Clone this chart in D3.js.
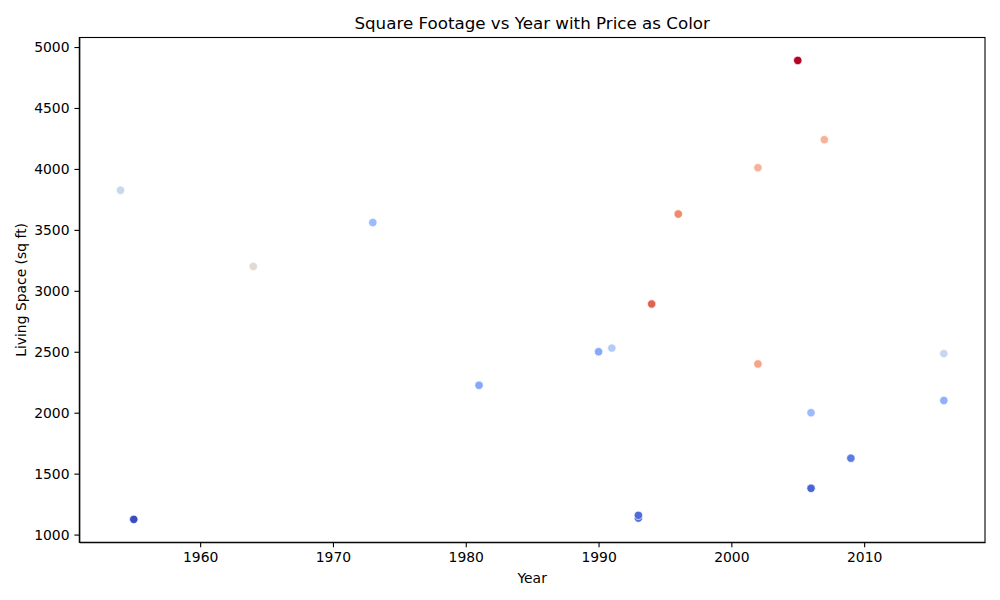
<!DOCTYPE html>
<html>
<head>
<meta charset="utf-8">
<script src="https://cdn.jsdelivr.net/npm/d3@7"></script>
<style>
  body { margin: 0; background: #fff; }
  svg text { font-family: "DejaVu Sans", sans-serif; fill: #000; }
  .axis path, .axis line { stroke: #000; stroke-width: 1.1; }
</style>
</head>
<body>
<div id="chart"></div>
<script>
// Data (one entry per house).
const years = [1954, 1955, 1964, 1973, 1981, 1990, 1991, 1993, 1993, 1994, 1996, 2002, 2002, 2005, 2006, 2006, 2007, 2009, 2016, 2016];
const sqft  = [3825, 1125, 3200, 3560, 2225, 2500, 2530, 1135, 1158, 2892, 3630, 4010, 2400, 4890, 2000, 1380, 4240, 1627, 2485, 2100];
const price = [915000, 250000, 1060000, 700000, 605000, 610000, 810000, 380000, 360000, 1585000, 1475000, 1300000, 1365000, 1800000, 700000, 335000, 1300000, 420000, 915000, 650000];

const xTicks = [1960, 1970, 1980, 1990, 2000, 2010];
const yTicks = [1000, 1500, 2000, 2500, 3000, 3500, 4000, 4500, 5000];

// matplotlib "coolwarm", sampled at 11 even stops
const coolwarm = ["#3b4cc0", "#5977e3", "#7b9ff9", "#9ebeff", "#c0d4f5", "#dddcdc",
                  "#f2cbb7", "#f7ac8e", "#ee8468", "#d65244", "#b40426"];

const width = 1000, height = 600;
const margin = {top: 37.5, right: 15, bottom: 57.7, left: 79.3};
const innerW = width - margin.left - margin.right;
const innerH = height - margin.top - margin.bottom;

const points = years.map((y, i) => ({year: y, sqft: sqft[i], price: price[i]}));

// matplotlib-style 5% padding around the data range
function padded(ext) {
  const pad = (ext[1] - ext[0]) * 0.05;
  return [ext[0] - pad, ext[1] + pad];
}

const x = d3.scaleLinear().domain(padded(d3.extent(years))).range([0, innerW]);
const y = d3.scaleLinear().domain(padded(d3.extent(sqft))).range([innerH, 0]);

const priceExt = d3.extent(price);
const color = d3.scaleLinear()
  .domain(coolwarm.map((c, i) => priceExt[0] + (priceExt[1] - priceExt[0]) * i / (coolwarm.length - 1)))
  .range(coolwarm)
  .interpolate(d3.interpolateRgb);

const svg = d3.select("#chart")
  .append("svg")
  .attr("width", width)
  .attr("height", height);

const g = svg.append("g")
  .attr("transform", `translate(${margin.left},${margin.top})`);

// Axes
g.append("g")
  .attr("class", "axis")
  .attr("transform", `translate(0,${innerH})`)
  .call(d3.axisBottom(x).tickValues(xTicks).tickFormat(d3.format("d")).tickSize(4.9).tickPadding(4.9).tickSizeOuter(0))
  .call(a => a.selectAll("text").style("font-size", "13.9px"));

g.append("g")
  .attr("class", "axis")
  .call(d3.axisLeft(y).tickValues(yTicks).tickFormat(d3.format("d")).tickSize(4.9).tickPadding(4.9).tickSizeOuter(0))
  .call(a => a.selectAll("text").style("font-size", "13.9px"));

// Frame (top and right spines)
g.append("rect")
  .attr("width", innerW)
  .attr("height", innerH)
  .attr("fill", "none")
  .attr("stroke", "#000")
  .attr("stroke-width", 1.1);

// Points
g.selectAll("circle.pt")
  .data(points)
  .enter()
  .append("circle")
  .attr("class", "pt")
  .attr("cx", d => x(d.year))
  .attr("cy", d => y(d.sqft))
  .attr("r", 4.2)
  .attr("fill", d => color(d.price))
  .attr("stroke", "#fff")
  .attr("stroke-width", 0.7);

// Title and axis labels
svg.append("text")
  .attr("x", margin.left + innerW / 2)
  .attr("y", 28.5)
  .attr("text-anchor", "middle")
  .style("font-size", "16.7px")
  .text("Square Footage vs Year with Price as Color");

svg.append("text")
  .attr("x", margin.left + innerW / 2)
  .attr("y", 582.5)
  .attr("text-anchor", "middle")
  .style("font-size", "13.9px")
  .text("Year");

svg.append("text")
  .attr("transform", `translate(26,${margin.top + innerH / 2}) rotate(-90)`)
  .attr("text-anchor", "middle")
  .style("font-size", "13.9px")
  .text("Living Space (sq ft)");
</script>
</body>
</html>
